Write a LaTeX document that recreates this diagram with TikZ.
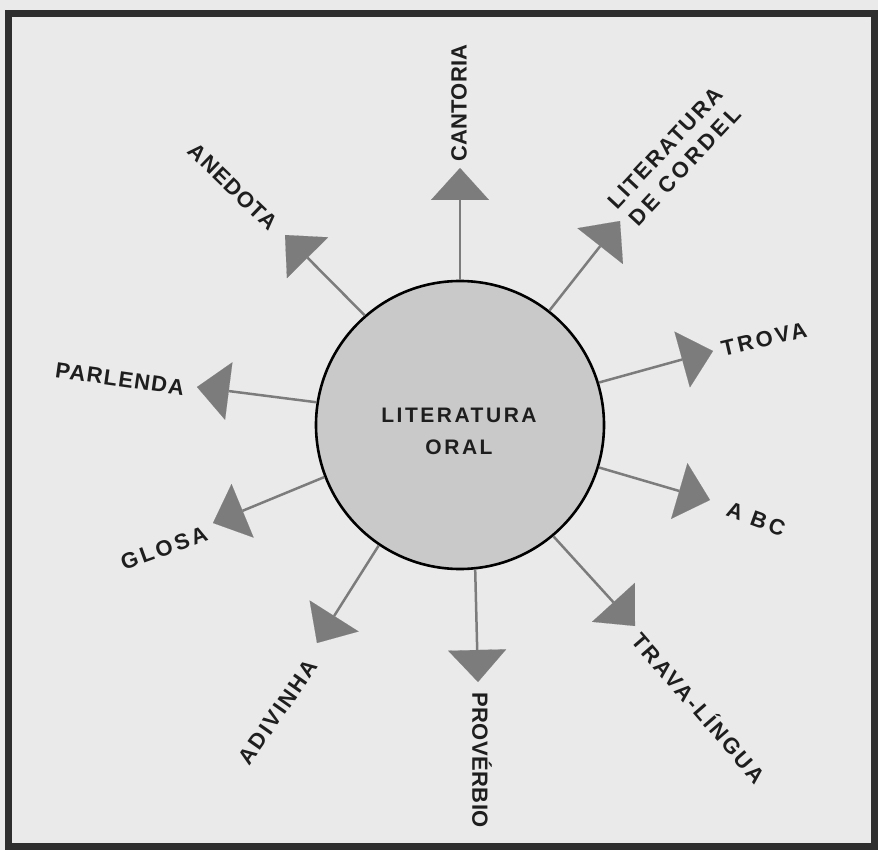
\documentclass[tikz,border=0pt]{standalone}
\usepackage{fontspec}
\setmainfont{Liberation Sans}
\usetikzlibrary{arrows.meta,calc}
\definecolor{paper}{HTML}{EAEAEA}
\definecolor{framec}{HTML}{2E2E2E}
\definecolor{arr}{HTML}{7C7C7C}
\definecolor{disc}{HTML}{C9C9C9}
\definecolor{ink}{HTML}{1E1E1E}
\newcommand{\lsp}[2]{{\addfontfeature{LetterSpace=#1}#2}}
\begin{document}
\begin{tikzpicture}[x=1pt,y=-1pt,
  lab/.style={font=\fontsize{22}{26}\selectfont\bfseries, inner sep=0pt, text=ink},
  ray/.style={draw=arr, line width=2.5pt, -{Triangle[width=58pt,length=32pt,line width=0.1pt]}},
]
\useasboundingbox (0,0) rectangle (878,850);
\fill[paper] (0,0) rectangle (878,850);
\draw[framec, line width=7pt] (8.5,14) rectangle (874,846);

% central disc
\node[circle, draw=black, line width=2.6pt, fill=disc, minimum size=288pt, inner sep=0pt] (c) at (460,425) {};
\node[font=\fontsize{21}{25}\selectfont\bfseries, text=ink, inner sep=0pt, align=center] (ctext) at (459,431) {\lsp{12}{LITERATURA}\\[7pt]\lsp{12}{ORAL}};

% arrow apexes
\coordinate (aCant) at (460,168);
\coordinate (aCord) at (620,221);
\coordinate (aTrov) at (713,351);
\coordinate (aAbc)  at (710,500);
\coordinate (aTrav) at (635,626);
\coordinate (aProv) at (478,682);
\coordinate (aAdiv) at (317,643);
\coordinate (aGlos) at (213,523);
\coordinate (aParl) at (197,387);
\coordinate (aAned) at (285,235);

\draw[ray] (c.90)  -- (aCant);
\draw[ray] (c.52)  -- (aCord);
\draw[ray] (c.17)  -- (aTrov);
\draw[ray] (c.-17) -- (aAbc);
\draw[ray] (c.-50) -- (aTrav);
\draw[ray] (c.-84) -- (aProv);
\draw[ray] (c.236) -- (aAdiv);
\draw[ray] (c.201) -- (aGlos);
\draw[ray] (c.171) -- (aParl);
\draw[ray] (c.131) -- (aAned);

% labels
\node[lab, rotate=90]  (lCant) at (459,103) {\lsp{1}{CANTORIA}};
\node[lab, rotate=47, align=center] (lCord) at (675,157) {\lsp{9}{LITERATURA}\\[1pt]\lsp{15}{DE CORDEL}};
\node[lab, rotate=13]  (lTrov) at (764,339) {\lsp{13}{TROVA}};
\node[lab, rotate=-20] (lAbc)  at (756,519) {\lsp{15}{A BC}};
\node[lab, rotate=-49] (lTrav) at (700,707) {\lsp{11}{TRAVA-LÍNGUA}};
\node[lab, rotate=-90] (lProv) at (482,760) {\lsp{2}{PROVÉRBIO}};
\node[lab, rotate=55]  (lAdiv) at (278,712) {\lsp{10}{ADIVINHA}};
\node[lab, rotate=20]  (lGlos) at (164,548) {\lsp{14}{GLOSA}};
\node[lab, rotate=-8]  (lParl) at (120,379) {\lsp{6}{PARLENDA}};
\node[lab, rotate=-44] (lAned) at (233,187) {\lsp{5}{ANEDOTA}};
\end{tikzpicture}
\end{document}
